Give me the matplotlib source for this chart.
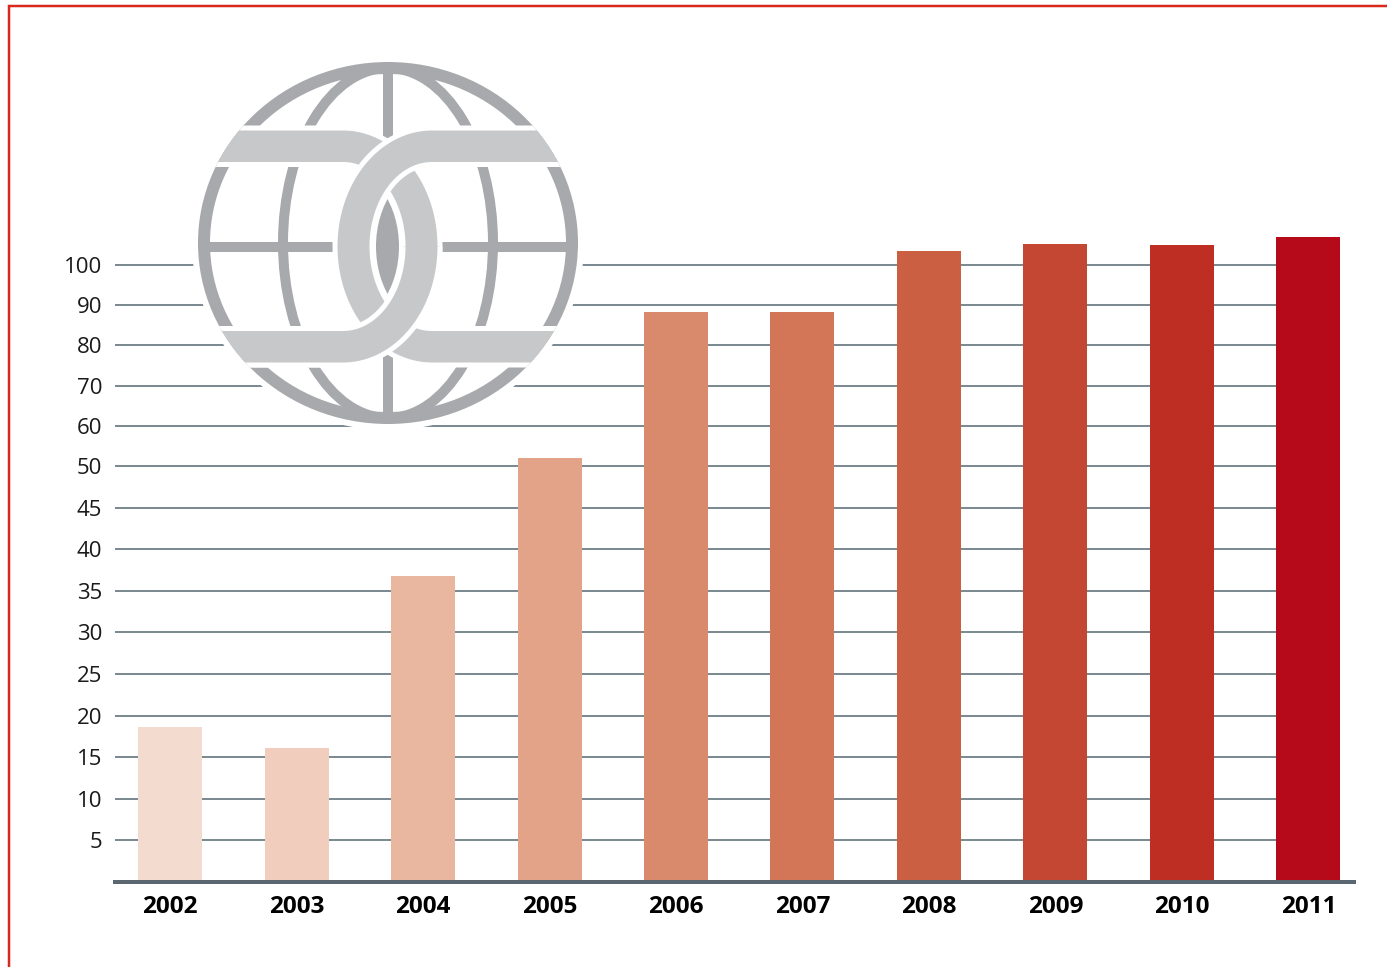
# -*- coding: utf-8 -*-
"""
Gráfico de barras 2002-2011 com escala vertical irregular
(passos de 5 até 50, depois passos de 10) e o logotipo do globo.
"""
import numpy as np
import matplotlib
matplotlib.use('Agg')
import matplotlib.pyplot as plt
from matplotlib.patches import Ellipse, Polygon

# --- DADOS ---
anos = ['2002', '2003', '2004', '2005', '2006', '2007', '2008', '2009', '2010', '2011']
valores = [18.6, 16.1, 36.8, 52.1, 88.4, 88.4, 103.5, 105.3, 105.0, 107.0]
cores = ['#f4dbcf', '#f0cdbd', '#e9b69f', '#e3a389', '#da8a6c', '#d37657',
         '#ca5f42', '#c44733', '#be2e23', '#b60a1a']
ticks_y = [5, 10, 15, 20, 25, 30, 35, 40, 45, 50, 60, 70, 80, 90, 100]

W, H = 1387, 967
plt.rcParams['font.family'] = ['Open Sans', 'DejaVu Sans']


def px(v):
    # pixels -> pontos (dpi 100)
    return v * 0.72


# escala do eixo y: cada passo de 5 (até 50) ou de 10 (acima) ocupa ~41 px
def escala_fwd(v):
    v = np.asarray(v, dtype=float)
    return np.where(v <= 50, v * 41.6 / 5, 416 + (v - 50) * 40.2 / 10)


def escala_inv(p):
    p = np.asarray(p, dtype=float)
    return np.where(p <= 416, p * 5 / 41.6, 50 + (p - 416) * 10 / 40.2)


fig = plt.figure(figsize=(W / 100, H / 100), dpi=100)
ax = fig.add_axes([115 / W, (H - 882) / H, 1239 / W, 657.2 / H])
ax.set_yscale('function', functions=(escala_fwd, escala_inv))
ax.set_ylim(0, 110)

x = np.arange(len(anos))
largura = 0.506
ax.set_xlim(-0.435, 9.36)

ax.hlines(ticks_y, -0.435, x[-1] + largura / 2, color='#6e7d86', lw=px(1.8), zorder=1)
ax.bar(x, valores, width=largura, color=cores, zorder=2)

for lado in ['top', 'right', 'left']:
    ax.spines[lado].set_visible(False)
ax.spines['bottom'].set_color('#5b6770')
ax.spines['bottom'].set_linewidth(px(4))
ax.spines['bottom'].set_zorder(3)

ax.set_yticks(ticks_y)
ax.set_yticklabels([str(t) for t in ticks_y])
ax.minorticks_off()
ax.tick_params(axis='y', length=0, pad=px(13), labelsize=16, labelcolor='#1a1a1a')
ax.set_xticks(x)
ax.set_xticklabels(anos, fontweight='bold')
ax.tick_params(axis='x', length=0, pad=px(13), labelsize=17.5, labelcolor='black')

# --- LOGOTIPO (globo com elos), em coordenadas de pixel ---
ax2 = fig.add_axes([0, 0, 1, 1])
ax2.set_xlim(0, W)
ax2.set_ylim(H, 0)
ax2.axis('off')
ax2.patch.set_alpha(0)

# moldura vermelha
ax2.plot([9, 9, W + 5], [H + 5, 6, 6], color='#d8291c', lw=px(2.5), solid_joinstyle='miter')

cinza = '#a7a9ac'
cinza_claro = '#c7c8ca'
cx, cy = 388, 243
rx, ry = 190, 181
anel = 12

ax2.add_patch(Ellipse((cx, cy), 2 * (rx + 6), 2 * (ry + 6), facecolor='white', edgecolor='none', zorder=1))
ax2.add_patch(Ellipse((cx, cy), 2 * (rx - anel / 2), 2 * (ry - anel / 2), facecolor='none',
                      edgecolor=cinza, lw=px(anel), zorder=2))

dentro = Ellipse((cx, cy), 2 * (rx - anel + 1), 2 * (ry - anel + 1), transform=ax2.transData)
meridiano = Ellipse((cx, cy), 2 * 105, 2 * (ry - 6), facecolor='none', edgecolor=cinza, lw=px(10), zorder=3)
ax2.add_patch(meridiano)
meridiano.set_clip_path(dentro)
for xs, ys in [([cx, cx], [cy - ry, cy + ry]), ([cx - rx, cx + rx], [247, 247])]:
    ln, = ax2.plot(xs, ys, color=cinza, lw=px(10), zorder=3, solid_capstyle='butt')
    ln.set_clip_path(dentro)

# elos
cyl = 246.5
bo, bi = 118.5, 82
ao, ai = 97, 60
cxL, cxR = 343, 432

# miolo branco (interseção dos furos) e a lente cinza no centro
miolo = Ellipse((cxL, cyl), 2 * ai, 2 * bi, facecolor='white', edgecolor='none', zorder=3.5)
ax2.add_patch(miolo)
miolo.set_clip_path(Ellipse((cxR, cyl), 2 * ai, 2 * bi, transform=ax2.transData))
lente = Ellipse((cxL, cyl), 2 * 56, 2 * 78, facecolor=cinza, edgecolor='none', zorder=4)
ax2.add_patch(lente)
lente.set_clip_path(Ellipse((cxR, cyl), 2 * 56, 2 * 78, transform=ax2.transData))


def elo(cxe, ponta, sentido):
    t = np.linspace(-np.pi / 2, np.pi / 2, 80)
    ext = np.column_stack([cxe + sentido * ao * np.cos(t), cyl + bo * np.sin(t)])
    inn = np.column_stack([cxe + sentido * ai * np.cos(t[::-1]), cyl + bi * np.sin(t[::-1])])
    pts = np.vstack([[[ponta, cyl - bo]], ext, [[ponta, cyl + bo], [ponta, cyl + bi]],
                     inn, [[ponta, cyl - bi]]])
    return pts


globo = Ellipse((cx, cy), 2 * rx, 2 * ry, transform=ax2.transData)
# metade de baixo do globo (para o elo esquerdo passar por cima)
tt = np.linspace(0, 2 * np.pi, 200)
contorno = np.column_stack([cx + rx * np.cos(tt), cy + ry * np.sin(tt)])
contorno[:, 1] = np.maximum(contorno[:, 1], cyl)
globo_baixo = Polygon(contorno, closed=True, transform=ax2.transData)

pts_L = elo(cxL, 150, 1)
pts_R = elo(cxR, 630, -1)

p1 = Polygon(pts_L, closed=True, facecolor=cinza_claro, edgecolor='white', lw=px(5), zorder=5)
ax2.add_patch(p1)
p1.set_clip_path(globo)
p2 = Polygon(pts_R, closed=True, facecolor=cinza_claro, edgecolor='white', lw=px(5), zorder=6)
ax2.add_patch(p2)
p2.set_clip_path(globo)
p3 = Polygon(pts_L, closed=True, facecolor=cinza_claro, edgecolor='white', lw=px(5), zorder=7)
ax2.add_patch(p3)
p3.set_clip_path(globo_baixo)

fig.savefig('out.png', dpi=100)
